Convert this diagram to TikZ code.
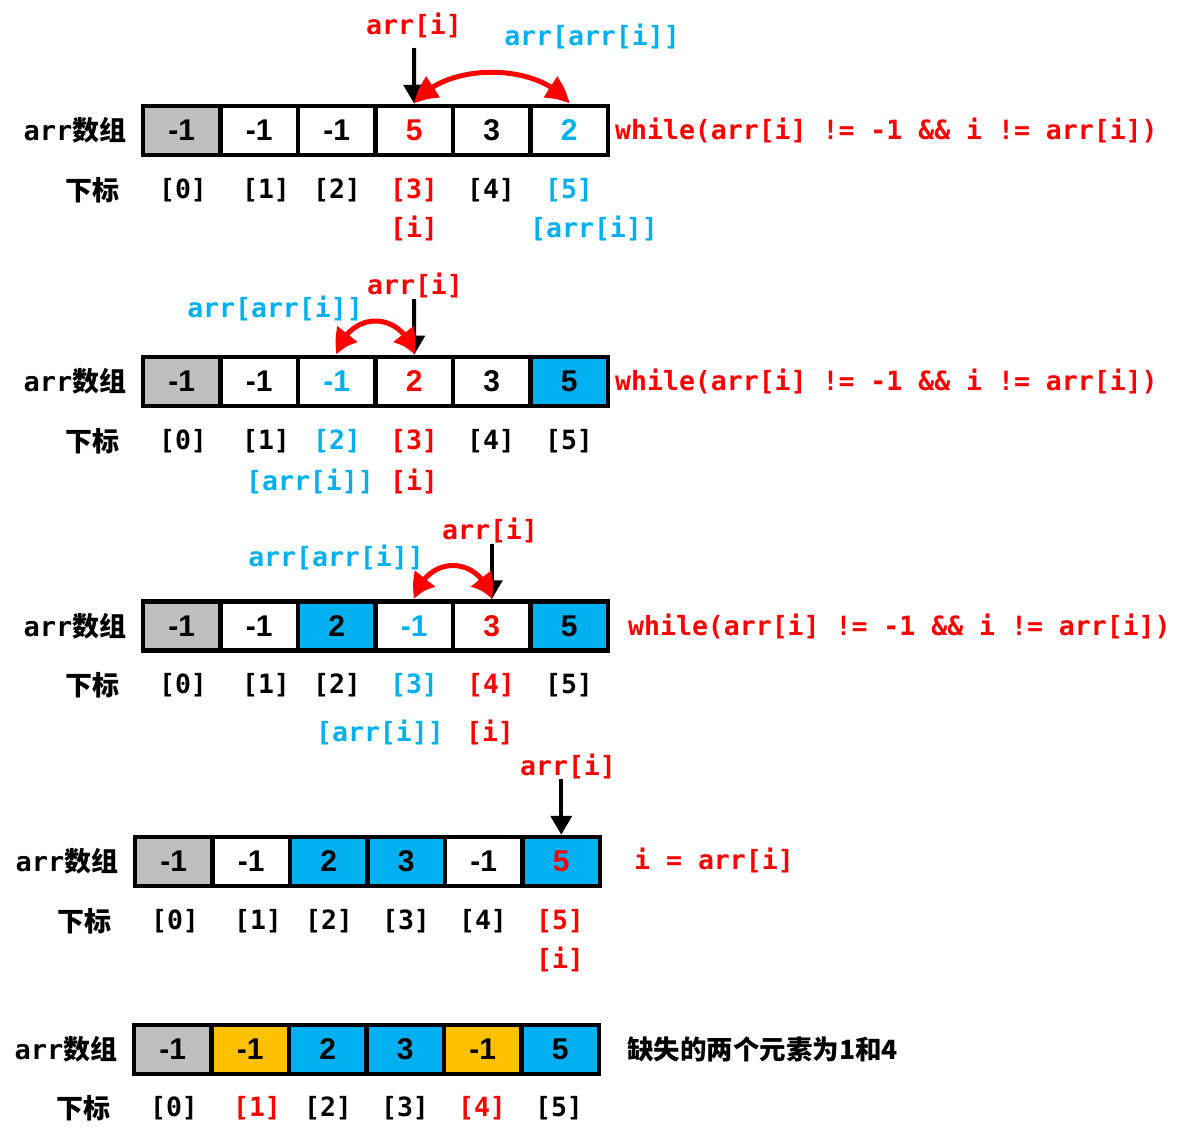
\documentclass[tikz,border=0pt]{standalone}
\usepackage{fontspec}
\newfontfamily\codefont{DejaVu Sans Mono}
\newfontfamily\cjk{Noto Sans CJK SC}
\newfontfamily\numfont{Liberation Sans}
\usetikzlibrary{arrows.meta,bending}
\definecolor{cy}{HTML}{00B0F0}
\definecolor{rd}{HTML}{FF0000}
\definecolor{gr}{HTML}{BFBFBF}
\definecolor{og}{HTML}{FFC000}
\tikzset{
  cell/.style={draw=black, line width=4.5pt, minimum width=77.5pt, minimum height=49pt, inner sep=0pt,
    font=\numfont\bfseries\fontsize{30}{32}\selectfont},
  code/.style={inner sep=0pt, font=\codefont\bfseries\fontsize{26.5}{30}\selectfont},
  cjktext/.style={inner sep=0pt, font=\cjk\bfseries\fontsize{27}{30}\selectfont},
  ptr/.style={draw=black, line width=4pt, -{Triangle[length=19pt,width=21pt]}},
  swapline/.style={draw=rd, line width=5pt, {Triangle[length=25pt,width=24pt,bend]}-{Triangle[length=25pt,width=24pt,bend]}},
}
\newcommand\arrlabel{{\codefont\bfseries arr}{\cjk\bfseries 数组}}
\begin{document}
\begin{tikzpicture}[x=1pt,y=-1pt]
\useasboundingbox (0,0) rectangle (1185,1141);
% ---------------- Row 1
\node[cjktext] (lab1) at (75,130.5) {\arrlabel};
\node[cjktext] (sub1) at (92,190) {下标};
\foreach \val/\fc/\tc [count=\k from 0] in {-1/gr/black,-1/white/black,-1/white/black,5/white/rd,3/white/black,2/white/cy}
  \node[cell, fill=\fc, text=\tc] (r1c\k) at ({143+38.75+77.5*\k},130.5) {\val};
\foreach \xx/\tc [count=\k from 0] in {183/black,266/black,337/black,414/rd,491/black,569/cy}
  \node[code, text=\tc] (i1n\k) at (\xx,190) {[\k]};
\node[code, text=rd] (i1a) at (414,228) {[i]};
\node[code, text=cy] (i1b) at (594,228) {[arr[i]]};
\node[code, text=rd] (t1a) at (414,25) {arr[i]};
\node[code, text=cy] (t1b) at (592,36) {arr[arr[i]]};
\coordinate (p1) at (414,48);
\draw[ptr] (p1) -- (r1c3.north);
\draw[swapline] (r1c3.north) .. controls +(30,-42) and +(-30,-42) .. (r1c5.north);
\node[code, text=rd, anchor=west] (w1) at (615,130.5) {while(arr[i] != -1 \&\& i != arr[i])};
% ---------------- Row 2
\node[cjktext] (lab2) at (75,381.5) {\arrlabel};
\node[cjktext] (sub2) at (92,441) {下标};
\foreach \val/\fc/\tc [count=\k from 0] in {-1/gr/black,-1/white/black,-1/white/cy,2/white/rd,3/white/black,5/cy/black}
  \node[cell, fill=\fc, text=\tc] (r2c\k) at ({143+38.75+77.5*\k},381.5) {\val};
\foreach \xx/\tc [count=\k from 0] in {183/black,266/black,337/cy,414/rd,491/black,569/black}
  \node[code, text=\tc] (i2n\k) at (\xx,441) {[\k]};
\node[code, text=cy] (i2b) at (310,481) {[arr[i]]};
\node[code, text=rd] (i2a) at (414,481) {[i]};
\node[code, text=rd] (t2a) at (415,285) {arr[i]};
\node[code, text=cy] (t2b) at (275,308) {arr[arr[i]]};
\coordinate (p2) at (414,299);
\draw[ptr] (p2) -- (r2c3.north);
\draw[swapline] (r2c3.north) .. controls +(-12,-45) and +(12,-45) .. (r2c2.north);
\node[code, text=rd, anchor=west] (w2) at (615,381.5) {while(arr[i] != -1 \&\& i != arr[i])};
% ---------------- Row 3
\node[cjktext] (lab3) at (75,626) {\arrlabel};
\node[cjktext] (sub3) at (92,685) {下标};
\foreach \val/\fc/\tc [count=\k from 0] in {-1/gr/black,-1/white/black,2/cy/black,-1/white/cy,3/white/rd,5/cy/black}
  \node[cell, fill=\fc, text=\tc] (r3c\k) at ({143+38.75+77.5*\k},626) {\val};
\foreach \xx/\tc [count=\k from 0] in {183/black,266/black,337/black,414/cy,491/rd,569/black}
  \node[code, text=\tc] (i3n\k) at (\xx,685) {[\k]};
\node[code, text=cy] (i3b) at (380,732) {[arr[i]]};
\node[code, text=rd] (i3a) at (490,732) {[i]};
\node[code, text=rd] (t3a) at (490,530) {arr[i]};
\node[code, text=cy] (t3b) at (336,557) {arr[arr[i]]};
\coordinate (p3) at (491.75,544);
\draw[ptr] (p3) -- (r3c4.north);
\draw[swapline] (r3c4.north) .. controls +(-12,-45) and +(12,-45) .. (r3c3.north);
\node[code, text=rd, anchor=west] (w3) at (628,626) {while(arr[i] != -1 \&\& i != arr[i])};
% ---------------- Row 4
\node[cjktext] (lab4) at (67,861.5) {\arrlabel};
\node[cjktext] (sub4) at (84,921) {下标};
\foreach \val/\fc/\tc [count=\k from 0] in {-1/gr/black,-1/white/black,2/cy/black,3/cy/black,-1/white/black,5/cy/rd}
  \node[cell, fill=\fc, text=\tc] (r4c\k) at ({135+38.75+77.5*\k},861.5) {\val};
\foreach \xx/\tc [count=\k from 0] in {175/black,258/black,329/black,406/black,483/black,560/rd}
  \node[code, text=\tc] (i4n\k) at (\xx,921) {[\k]};
\node[code, text=rd] (i4a) at (560,959) {[i]};
\node[code, text=rd] (t4a) at (568,766) {arr[i]};
\coordinate (p4) at (561.25,779);
\draw[ptr] (p4) -- (r4c5.north);
\node[code, text=rd, anchor=west] (w4) at (634,860) {i = arr[i]};
% ---------------- Row 5
\node[cjktext] (lab5) at (66,1049.5) {\arrlabel};
\node[cjktext] (sub5) at (83,1108) {下标};
\foreach \val/\fc/\tc [count=\k from 0] in {-1/gr/black,-1/og/black,2/cy/black,3/cy/black,-1/og/black,5/cy/black}
  \node[cell, fill=\fc, text=\tc] (r5c\k) at ({134+38.75+77.5*\k},1049.5) {\val};
\foreach \xx/\tc [count=\k from 0] in {174/black,257/rd,328/black,405/black,482/rd,559/black}
  \node[code, text=\tc] (i5n\k) at (\xx,1108) {[\k]};
\node[cjktext, anchor=west, font=\cjk\bfseries\fontsize{26.5}{30}\selectfont] (m5) at (627,1049) {缺失的两个元素为1和4};
\end{tikzpicture}
\end{document}
